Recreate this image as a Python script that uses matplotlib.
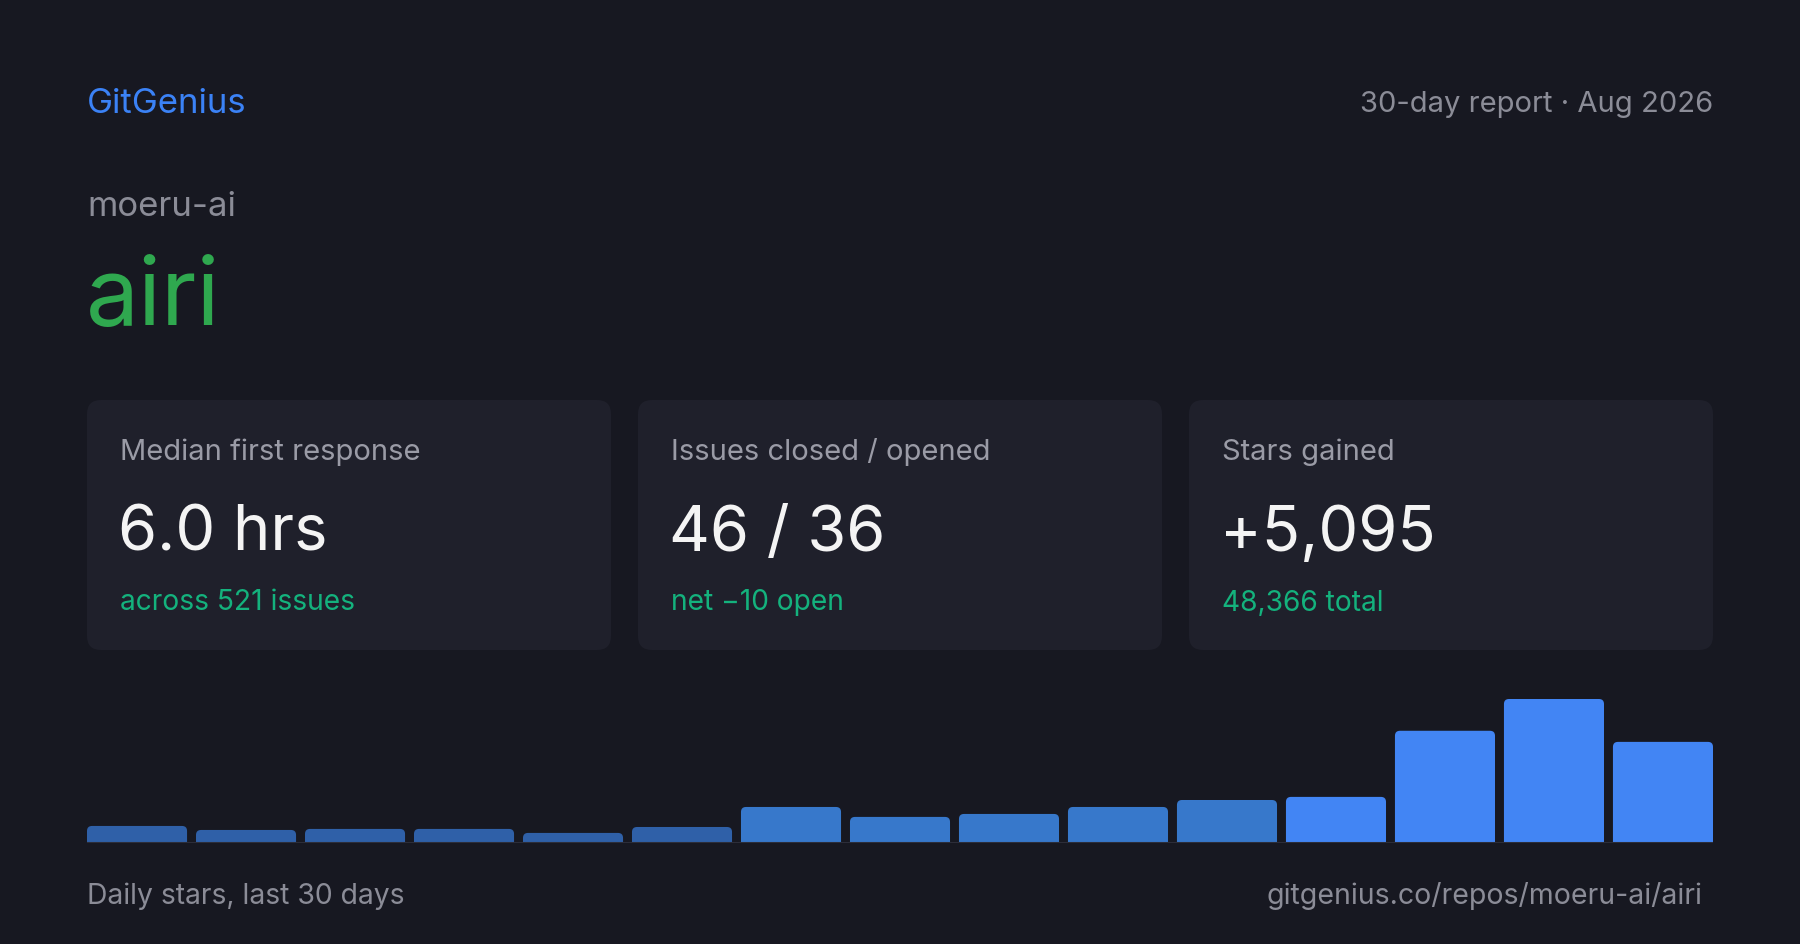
import matplotlib
matplotlib.use("Agg")
import matplotlib.pyplot as plt
from matplotlib.patches import FancyBboxPatch

# data
org = "moeru-ai"
repo = "airi"
period = "30-day report · Aug 2026"
card_labels = ["Median first response", "Issues closed / opened", "Stars gained"]
card_values = ["6.0 hrs", "46 / 36", "+5,095"]
card_notes = ["across 521 issues", "net −10 open", "48,366 total"]
daily_stars = [132, 101, 109, 109, 78, 124, 279, 202, 225, 279, 333, 357, 869, 1115, 783]

BG = "#171821"
CARD = "#1f202b"
GRAY = "#8b8c97"
W, H = 1800, 945

plt.rcParams['font.family'] = ['Inter', 'DejaVu Sans']

fig = plt.figure(figsize=(W / 100, H / 100), dpi=100, facecolor=BG)

# full-figure axes in pixel coords (y downwards)
ax = fig.add_axes([0, 0, 1, 1])
ax.set_xlim(0, W)
ax.set_ylim(H, 0)
ax.axis("off")
ax.set_facecolor(BG)

ax.text(87, 104, "GitGenius", color="#3b82f6", fontsize=25, va="center", ha="left")
ax.text(1713, 104, period, color=GRAY, fontsize=21, va="center", ha="right")
ax.text(87, 207, org, color=GRAY, fontsize=25, va="center", ha="left")
ax.text(86, 325, repo, color="#2fa84f", fontsize=68, va="baseline", ha="left")

# stat cards
card_x = [87, 638, 1189]
card_w, card_top, card_h = 524, 401, 250
for cx, lab, val, note in zip(card_x, card_labels, card_values, card_notes):
    ax.add_patch(FancyBboxPatch((cx, card_top), card_w, card_h,
                                boxstyle="round,pad=0,rounding_size=14",
                                fc=CARD, ec="none"))
    ax.text(cx + 33, 452, lab, color="#9a9ba6", fontsize=21, va="center")
    ax.text(cx + 31, 534, val, color="#f4f4f4", fontsize=45.5, va="center")
    ax.text(cx + 33, 603, note, color="#14b27d", fontsize=20.3, va="center")

ax.text(87, 896, "Daily stars, last 30 days", color=GRAY, fontsize=20.4, va="center")
ax.text(1702, 896, f"gitgenius.co/repos/{org}/{repo}", color=GRAY, fontsize=20.5,
        va="center", ha="right")

# bar chart
bx0, bx1 = 87, 1713
base_y = 844
ymax = 1200
px_per_val = 144 / 1115
ax_h = ymax * px_per_val
bax = fig.add_axes([bx0 / W, (H - base_y) / H, (bx1 - bx0) / W, ax_h / H])
bax.set_facecolor("none")
bax.axis("off")
n = len(daily_stars)
bw = 0.918
bax.set_xlim(-bw / 2, n - 1 + bw / 2)
bax.set_ylim(0, ymax)

x_unit_px = (bx1 - bx0) / (n - 1 + bw)
aspect = (1 / px_per_val) / (1 / x_unit_px)
r = 5 / x_unit_px

bars = bax.bar(range(n), daily_stars, width=bw)
for b, v in zip(bars, daily_stars):
    if v >= 350:
        col = "#4285f4"
    elif v >= 180:
        col = "#3778cb"
    else:
        col = "#2f60a8"
    b.set_visible(False)
    x, w, h = b.get_x(), b.get_width(), b.get_height()
    extra = r * aspect
    bax.add_patch(FancyBboxPatch((x, -extra), w, h + extra,
                                 boxstyle=f"round,pad=0,rounding_size={r}",
                                 mutation_aspect=aspect, fc=col, ec="none"))
bax.axhline(0, color="#2c2d39", lw=2.2, zorder=5)

fig.savefig("out.png", dpi=100, facecolor=BG)
